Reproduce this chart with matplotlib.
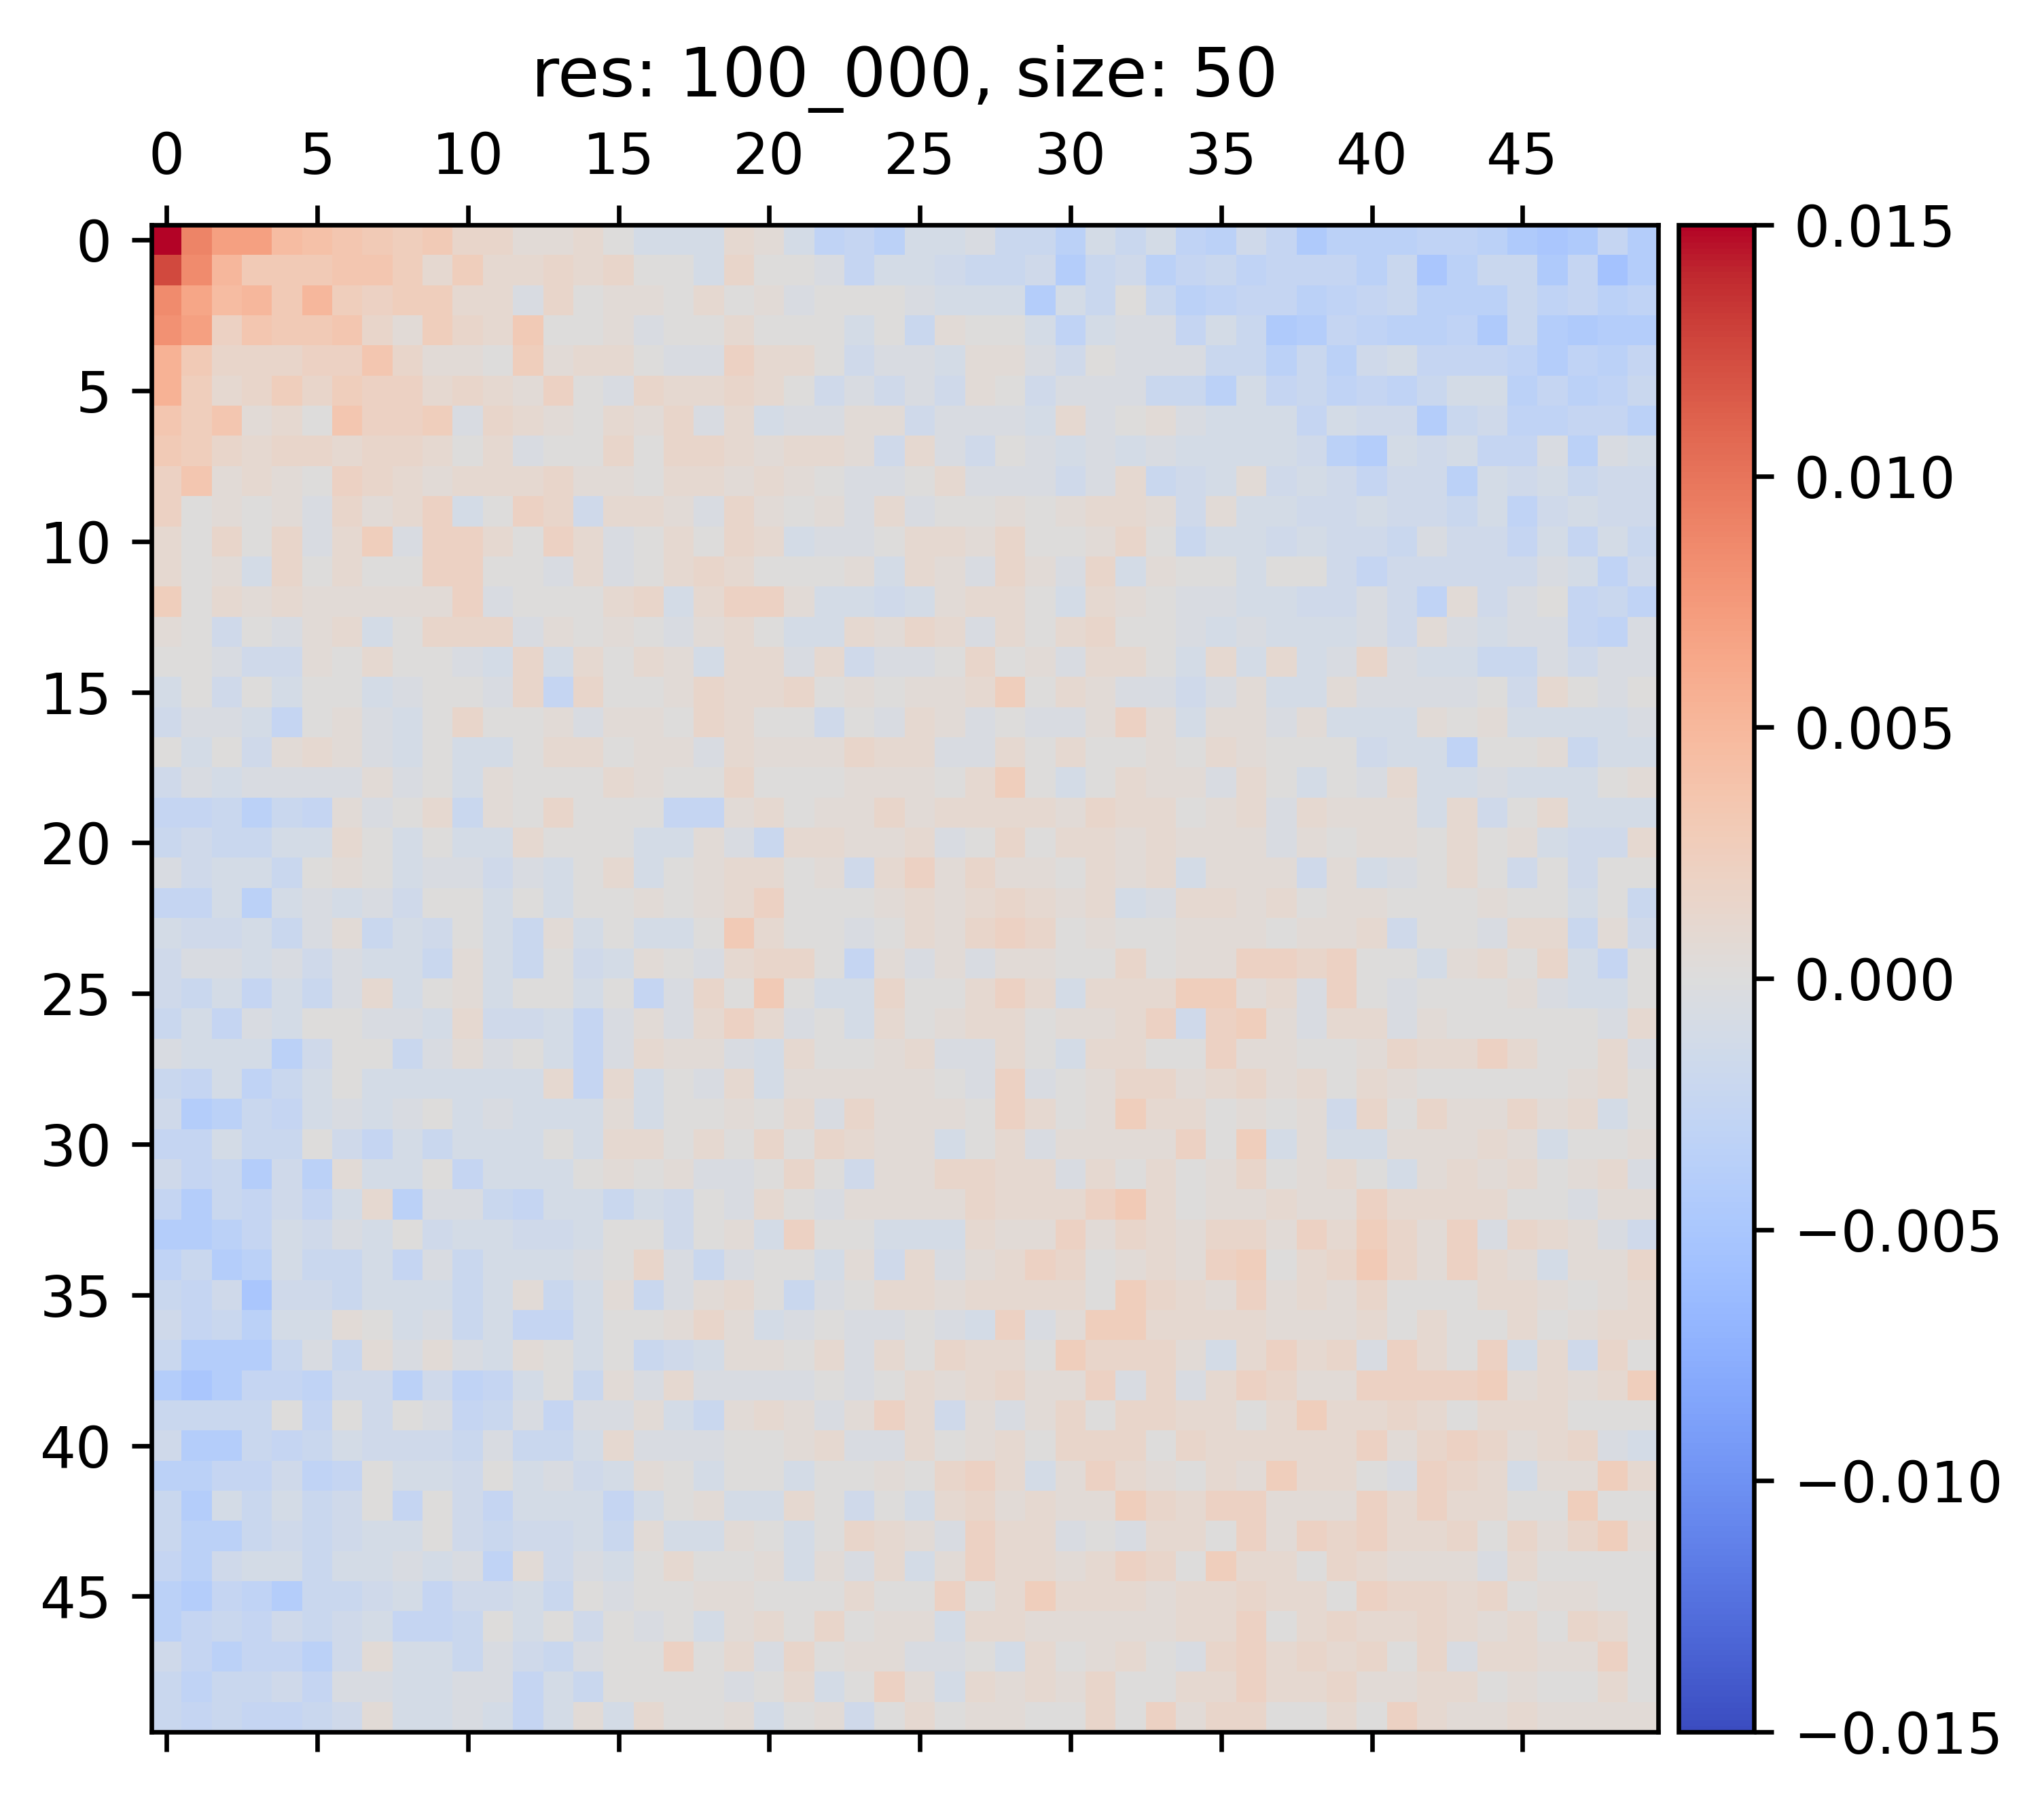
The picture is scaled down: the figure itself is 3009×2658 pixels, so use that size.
import matplotlib
matplotlib.use("Agg")
import matplotlib.pyplot as plt
import numpy as np


# ==================================
# DATA (one char per cell)
# unit = 0.0005 ; "0".."U" -> 0..+30 units, "a".."t" -> -1..-20 units
# ==================================

STEP = 0.0005
POS = "0123456789ABCDEFGHIJKLMNOPQRSTU"
NEG = "abcdefghijklmnopqrst"

rows = [
    "UIEE987656331120b" "bb21bfegbbaddgbdb" "fgceigggffgijieh",
    "PHA66677525223230" "0b300aebbcddchdcg" "edfeeegdjgddiekh",
    "HD9A6A545522a3011" "0201a000abbbhbd0d" "gfeegfedgggdfegf",
    "GE47667315326001a" "002000b0d100bfbaa" "ebdihefggfidhihh",
    "B6333447311051220" "aa4220caab11ac0aa" "addgdgcbeeefhfge",
    "B52353544232140a3" "22320cacac10caaad" "dgbedfefdbbgegfd",
    "7571207445a321021" "3a2baa11caaab2a01" "abbbebcchdcffeeg",
    "653233233202a0030" "3321221c2ac0ababa" "bbbbcghbcbeeagab",
    "47121043212223110" "221210aa02aaaca2d" "cb1cbceccgbcbdcc",
    "40101a3124b043c22" "1a3101a2a00101221" "c1bbccbccdbfcbcc",
    "20303a25a442042a0" "2032baa0221300130" "dbbcbccdaccebebd",
    "201b302004400a2a0" "2320001b21a31a3b1" "00b00cecccccabfc",
    "50212111114a00023" "b2441bbcb1220b210" "aabbccacf1ca0edf",
    "10c0a12b0333a1010" "a120bb2132a202300" "ababbbac1abaaefa",
    "00acc10200ab3b202" "1b22a2caa0301a220" "b2b2ba3abbddacaa",
    "b0c0b00ba00a3e300" "132230101125021aa" "ca1bb1aaaa0c20a0",
    "caabe01ab03001a11" "03200c0a21a0aa141" "b11a1bbb101bbbba",
    "0b0c121ab0bb02201" "1a2111322aa202001" "021000cbbf001dbb",
    "cabaaaa1a0b100021" "0030001110250b021" "1a20b0a2bbabbb01",
    "eedgde1a02d103000" "ee120113122221322" "012a2111b2c02bbb",
    "dcddbb20b0bb2000b" "b1ad22112a0302212" "111a10110201bcc2",
    "acbbd010baacab02b" "012201c2413110212" "b111c1ba020c0c00",
    "eebgbabac00b0b001" "012400012123212ba" "2212011000100b0d",
    "bccbda1dbc0bd1b0b" "b06200a0213430100" "1110112c00a22d1c",
    "caabacabbd1bd0cb1" "0a2330e1a1a110030" "11443400b1203be0",
    "cdbebda2b01b00b0e" "a3060bb300242b222" "5512a40a0001abb0",
    "dbeab00aab2ccbea1" "a242a0b2012201124" "c451a22a100000a2",
    "abbbgc00da1a0bea2" "11ab20012aa20b220" "041100132242002a",
    "debfdb0bbbbbb2e2b" "0a2b111110a4a0133" "1231202100000120",
    "chgdebaba0babbb1b" "00102a31110420152" "20101c30311312b0",
    "eebdd0cebdbbb0b22" "020303211b02a1111" "405b1bb11121b001",
    "cedhcg1bb0ebbb010" "1aa030c113322a202" "0130120b1212012a",
    "ehdeceb2gaadebbdb" "c0a20a11113222462" "0112114222200a11",
    "hhgebcab0cbbccb00" "c01b400bbb2114132" "1331425314a321ac",
    "fdhgbddbeadbbba03" "ada00b1c2a1243012" "145023631421b113",
    "decjccdbbbdb1db1d" "a120da02212222053" "2141213000221012",
    "cedgbb10badbeeb00" "131ba0aa0ab4a1552" "2221112020020122",
    "dhhhdad1a1ab10b0d" "cb1102a2032205333" "1b2423a4204b2c30",
    "hjheefccgcfeb0d1a" "2aaaa0a02123114a3" "a243114444512125",
    "dddd0e0c0aedaeaa1" "bd121a142c1a13033" "2202522320222000",
    "chhdedbcccdaddb2a" "aa0012aa201203330" "32222241343123ab",
    "ggeecfe0bbc0bacb1" "0b00b0010342b1421" "0215220a432b1152",
    "dhbdbdc0e0cebbbeb" "01bb20c0b23121153" "2441114242200500",
    "dggdcdcbb0cdccbd1" "bb10b0321a422a0a2" "2041434223031351",
    "egcbbdbbabaf1cab0" "2001b1a2b14221243" "0522032111a20000",
    "ghefhddcbeccbd0a0" "01100020040252221" "2232204332301100",
    "gedecdcbeed0b0c0a" "0b1203011b2211111" "2240232232120320",
    "cegeegc1bbdacda00" "402a3011aa0b20120" "a34232303a221140",
    "dfddceaabbaaebd00" "00a02b041b2121300" "2242231122010020",
    "dedeedc1bbabeb1b2" "001b01c0201100304" "1330020421121111",
]

title = "res: 100_000, size: 50"
vmin, vmax = -0.015, 0.015
cbar_ticks = [-0.015, -0.010, -0.005, 0.0, 0.005, 0.010, 0.015]
axis_ticks = list(range(0, 50, 5))


def decode(ch):
    if ch in POS:
        return POS.index(ch) * STEP
    return -(NEG.index(ch) + 1) * STEP


data = np.array([[decode(c) for c in r] for r in rows])


# ==================================
# PLOT
# ==================================

W, H = 3009, 2658
fig = plt.figure(figsize=(W / 600, H / 600), dpi=600)

ax = fig.add_axes([223 / W, (H - 2549) / H, 2218 / W, 2218 / H])
cax = fig.add_axes([2471 / W, (H - 2549) / H, 111 / W, 2218 / H])

im = ax.matshow(data, cmap="coolwarm", vmin=vmin, vmax=vmax)

ax.set_xticks(axis_ticks)
ax.set_yticks(axis_ticks)

ax.set_title(title)

cb = fig.colorbar(im, cax=cax)
cb.set_ticks(cbar_ticks)

fig.savefig("out.png", dpi=600)
